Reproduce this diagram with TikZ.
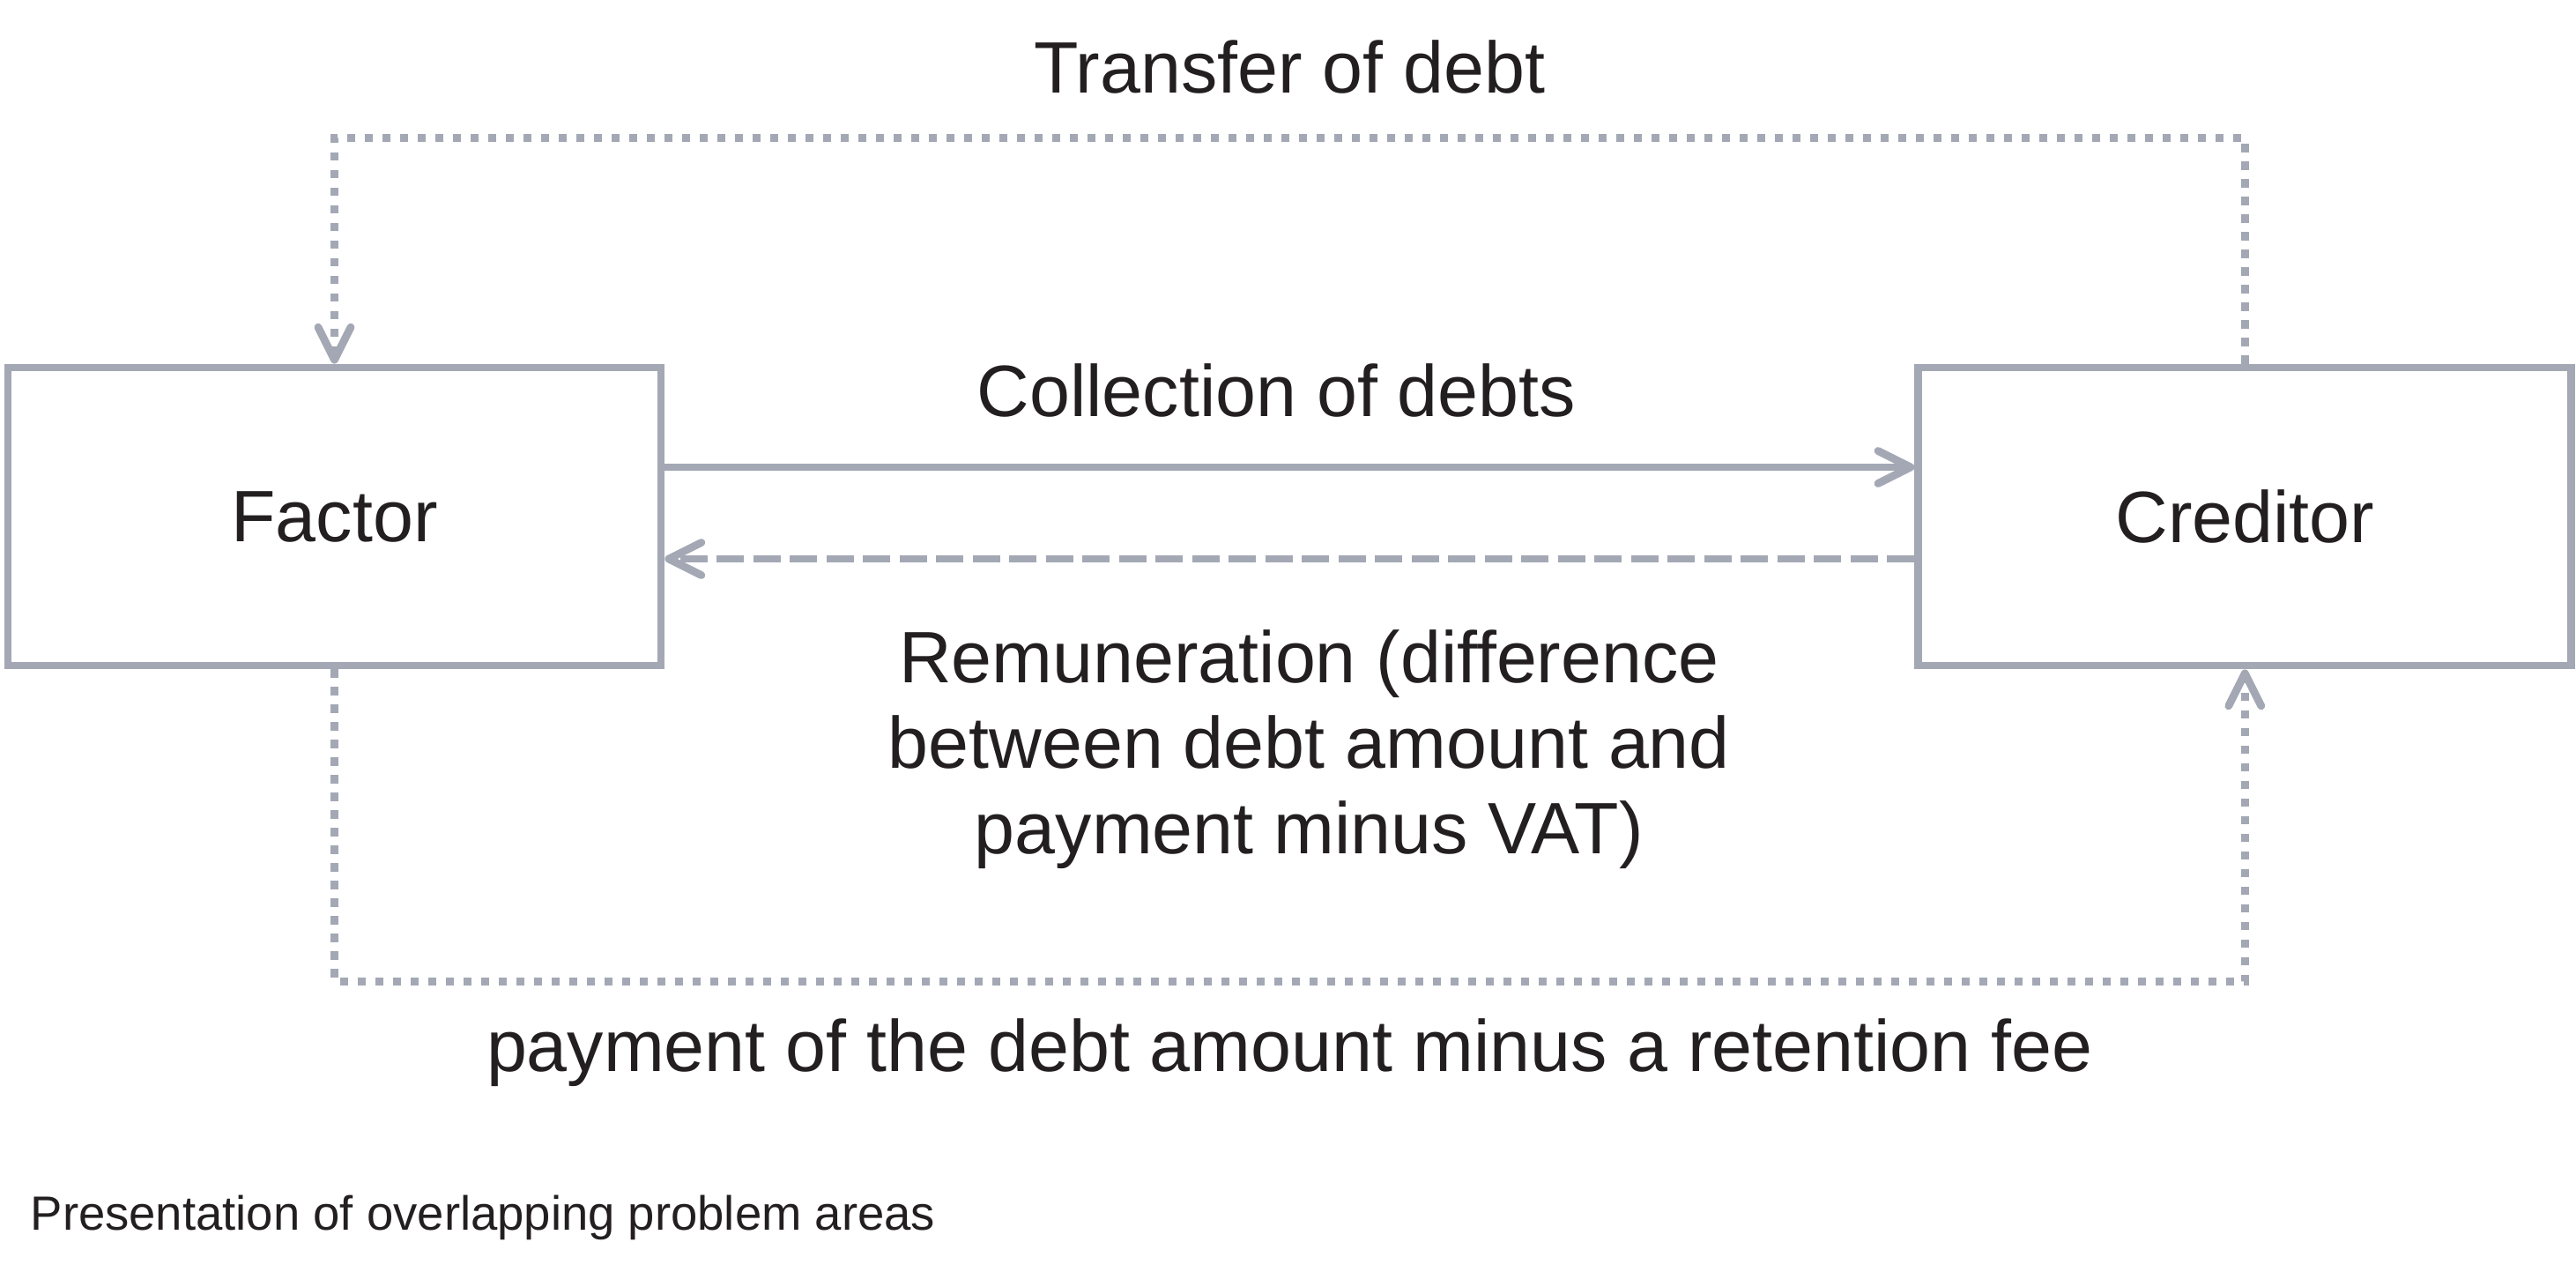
\documentclass[tikz,border=0pt]{standalone}
\usepackage{fontspec}
\setmainfont{Liberation Sans}
\usetikzlibrary{positioning,arrows.meta,calc}
\definecolor{flowgrey}{HTML}{A3A8B4}
\definecolor{inkblack}{HTML}{231F20}
\tikzset{
	party/.style={rectangle, draw=flowgrey, line width=0.88mm, minimum width=7.41cm, minimum height=3.38cm, inner sep=0pt, text=inkblack, font=\fontsize{23.5}{27.6}\selectfont},
	connect/.style={-{Straight Barb[length=3.7mm, width=3.7mm, round]}, draw=flowgrey, line width=0.88mm},
	longdash/.style={dash pattern=on 3.1mm off 1.05mm},
	dotline/.style={dash pattern=on 0.95mm off 1.05mm},
	flowlabel/.style={inner sep=0pt, text=inkblack, font=\fontsize{23.5}{27.6}\selectfont}
}

\begin{document}
\begin{tikzpicture}
\useasboundingbox (0,0) rectangle (29.23,-14.42);
\node[party] (Factor) at (3.795,-5.86) {Factor};
\node[party] (Creditor) [right=14.18cm of Factor] {Creditor};
\draw[connect] ([yshift=5.6mm]Factor.east) to node[flowlabel, anchor=base, xshift=-1.5mm, yshift=5.8mm] {Collection of debts} ([yshift=5.6mm]Creditor.west);
\draw[connect, longdash] ([yshift=-4.8mm]Creditor.west) to node[flowlabel, align=center, anchor=north, xshift=2.2mm, yshift=-7.6mm] {Remuneration (difference\\between debt amount and\\payment minus VAT)} ([yshift=-4.8mm]Factor.east);

% dotted loops over and under the boxes
\draw[connect, dotline] (Creditor.north) -- ++(0,2.56) -| node[flowlabel, pos=0.25, anchor=base, yshift=5.1mm] {Transfer of debt} (Factor.north);
\draw[connect, dotline] (Factor.south) -- ++(0,-3.54) -| node[flowlabel, pos=0.25, anchor=base, yshift=-10.2mm] {payment of the debt amount minus a retention fee} (Creditor.south);

\node[inner sep=0pt, anchor=base west, text=inkblack, font=\fontsize{15.5}{18}\selectfont] (caption) at (0.34,-13.95) {Presentation of overlapping problem areas};
\end{tikzpicture}
\end{document}
